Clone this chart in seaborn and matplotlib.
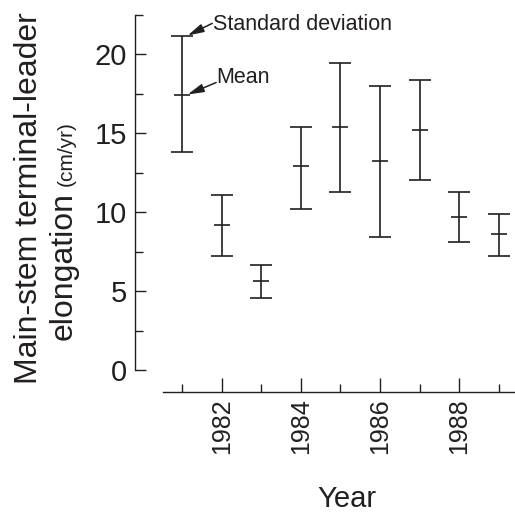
import numpy as np
import pandas as pd
import matplotlib
matplotlib.use("Agg")
import matplotlib.pyplot as plt
import seaborn as sns
from matplotlib.ticker import MultipleLocator, FixedLocator

years = [1981, 1982, 1983, 1984, 1985, 1986, 1987, 1988, 1989]
mean_vals = [17.46, 9.16, 5.63, 12.9, 15.37, 13.23, 15.19, 9.7, 8.62]
lower_vals = [13.8, 7.22, 4.57, 10.22, 11.28, 8.44, 12.02, 8.11, 7.22]
upper_vals = [21.2, 11.11, 6.67, 15.37, 19.43, 17.99, 18.37, 11.28, 9.86]
y_ticks = [0, 5, 10, 15, 20]
x_ticks = [1982, 1984, 1986, 1988]
x_minor = [1981, 1983, 1985, 1987, 1989]

sns.set_theme(style="ticks")
plt.rcParams["font.family"] = ["Liberation Sans", "DejaVu Sans"]
ink = "#231f20"

W, H = 515, 516
fig = plt.figure(figsize=(W / 100, H / 100), dpi=100)
ax = fig.add_axes([135 / W, (H - 370) / H, 380 / W, 355 / H])

df = pd.DataFrame({"year": years, "mean": mean_vals, "lo": lower_vals, "hi": upper_vals})
yerr = [df["mean"] - df["lo"], df["hi"] - df["mean"]]
ax.errorbar(df["year"], df["mean"], yerr=yerr, fmt="none", ecolor=ink,
            elinewidth=1.2, capsize=7.9, capthick=1.2, zorder=2)
sns.scatterplot(data=df, x="year", y="mean", marker="_", s=125, color=ink,
                linewidth=1.2, ax=ax, zorder=3, legend=False)

ax.set_xlim(1979.81, 1989.41)
ax.set_ylim(0, 22.5)
ax.set_xlabel("")
ax.set_ylabel("")

sns.despine(ax=ax, offset={"bottom": 15.84, "left": 0})
ax.spines["bottom"].set_bounds(1980.52, 1989.41)
for s in ("left", "bottom"):
    ax.spines[s].set_color(ink)
    ax.spines[s].set_linewidth(1.0)

ax.set_yticks(y_ticks)
ax.yaxis.set_minor_locator(MultipleLocator(2.5))
ax.set_xticks(x_ticks)
ax.set_xticklabels([str(x) for x in x_ticks])
ax.xaxis.set_minor_locator(FixedLocator(x_minor))

ax.tick_params(axis="y", which="major", direction="in", length=7.9, width=1.0,
               pad=5.8, labelsize=21, colors=ink)
ax.tick_params(axis="y", which="minor", direction="in", length=5.6, width=1.0, colors=ink)
ax.tick_params(axis="x", which="major", direction="in", length=10, width=1.0,
               pad=4.5, labelsize=18, labelrotation=90, colors=ink)
ax.tick_params(axis="x", which="minor", direction="in", length=5.8, width=1.0, colors=ink)

# annotations
x0 = years[0]
tip_dx = 0.14
ax.annotate("", xy=(x0 + tip_dx, upper_vals[0]), xytext=(x0 + 0.76, upper_vals[0] + 0.77),
            arrowprops=dict(arrowstyle="-|>,head_length=0.65,head_width=0.17",
                            mutation_scale=15, color=ink, lw=1.1, shrinkA=0, shrinkB=0),
            annotation_clip=False)
ax.text(x0 + 0.78, upper_vals[0] + 0.32, "Standard deviation", fontsize=15.5,
        color=ink, ha="left", va="baseline", clip_on=False)
ax.annotate("", xy=(x0 + tip_dx, mean_vals[0]), xytext=(x0 + 0.86, mean_vals[0] + 0.76),
            arrowprops=dict(arrowstyle="-|>,head_length=0.65,head_width=0.17",
                            mutation_scale=15, color=ink, lw=1.1, shrinkA=0, shrinkB=0),
            annotation_clip=False)
ax.text(x0 + 0.86, mean_vals[0] + 0.7, "Mean", fontsize=15.5,
        color=ink, ha="left", va="baseline", clip_on=False)

# axis titles
fig.text(37 / W, 1 - 198 / H, "Main-stem terminal-leader", rotation=90,
         rotation_mode="anchor", ha="center", va="baseline", fontsize=23, color=ink)
fig.text(72 / W, 1 - 340 / H, "elongation", rotation=90,
         rotation_mode="anchor", ha="left", va="baseline", fontsize=23, color=ink)
fig.text(72 / W, 1 - 186 / H, "(cm/yr)", rotation=90,
         rotation_mode="anchor", ha="left", va="baseline", fontsize=15, color=ink)
fig.text(347 / W, 1 - 507 / H, "Year", ha="center", va="baseline", fontsize=21, color=ink)

fig.savefig("out.png", dpi=100)
